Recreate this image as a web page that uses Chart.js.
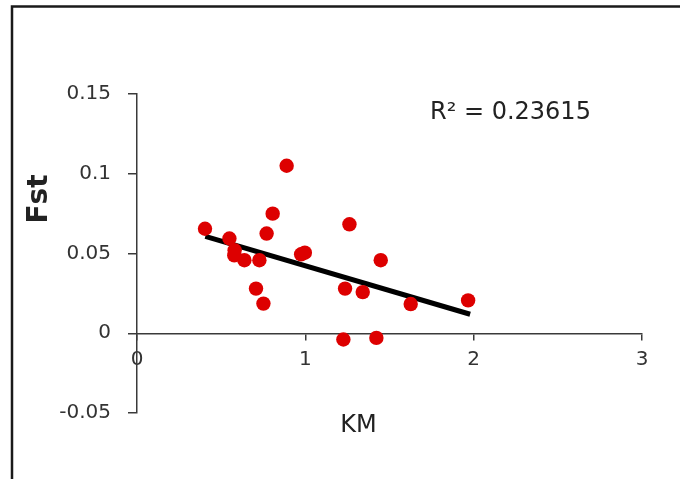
<!DOCTYPE html>
<html>
<head>
<meta charset="utf-8">
<script src="https://cdn.jsdelivr.net/npm/chart.js@4.4.0/dist/chart.umd.min.js"></script>
<style>
  html, body { margin: 0; padding: 0; background: #ffffff; }
  #wrap { position: relative; width: 680px; height: 479px; }
  canvas { display: block; }
</style>
</head>
<body>
<div id="wrap"><canvas id="c" width="680" height="479"></canvas></div>
<script>
// ---- data ----
const kmValues  = [0.404, 0.549, 0.578, 0.580, 0.638, 0.727, 0.707, 0.751, 0.770, 0.806, 0.889,
                   0.975, 0.997, 1.262, 1.236, 1.341, 1.448, 1.226, 1.422, 1.626, 1.967];
const fstValues = [0.0655, 0.0594, 0.0488, 0.0520, 0.0458, 0.0458, 0.0280, 0.0186, 0.0625, 0.0750, 0.1050,
                   0.0495, 0.0505, 0.0683, 0.0280, 0.0258, 0.0458, -0.0039, -0.0029, 0.0183, 0.0206];
const trendKm  = [0.406, 1.979];
const trendFst = [0.0608, 0.0119];
const xTickLabels = ['0', '1', '2', '3'];
const yTickLabels = ['-0.05', '0', '0.05', '0.1', '0.15'];
const xTitle = 'KM';
const yTitle = 'Fst';
const r2Text = 'R\u00B2 = 0.23615';

const points = kmValues.map((x, i) => ({ x: x, y: fstValues[i] }));
const trend = trendKm.map((x, i) => ({ x: x, y: trendFst[i] }));

const TXT = '#333333';
const AXIS = '#3a3a3a';

const decor = {
  id: 'decor',
  beforeDraw(chart) {
    const ctx = chart.ctx;
    ctx.save();
    ctx.fillStyle = '#ffffff';
    ctx.fillRect(0, 0, chart.width, chart.height);
    ctx.strokeStyle = '#1a1a1a';
    ctx.lineWidth = 2.5;
    ctx.beginPath();
    ctx.moveTo(12, chart.height + 5);
    ctx.lineTo(12, 6.5);
    ctx.lineTo(chart.width + 5, 6.5);
    ctx.stroke();
    ctx.restore();
  },
  afterDraw(chart) {
    const ctx = chart.ctx;
    const area = chart.chartArea;
    ctx.save();
    ctx.fillStyle = '#222222';
    ctx.font = '24px "DejaVu Sans"';
    ctx.textAlign = 'left';
    ctx.textBaseline = 'alphabetic';
    ctx.fillText(r2Text, 430, 119);
    ctx.font = '24px "DejaVu Sans"';
    ctx.textAlign = 'center';
    ctx.textBaseline = 'middle';
    ctx.fillText(xTitle, (area.left + area.right) / 2 - 31, 426);
    ctx.font = 'bold 28px "DejaVu Sans"';
    ctx.translate(40, 199);
    ctx.rotate(-Math.PI / 2);
    ctx.fillText(yTitle, 0, 0);
    ctx.restore();
  }
};

new Chart(document.getElementById('c'), {
  type: 'scatter',
  data: {
    datasets: [
      {
        type: 'line',
        data: trend,
        borderColor: '#000000',
        borderWidth: 5,
        pointRadius: 0,
        fill: false,
        order: 2
      },
      {
        data: points,
        backgroundColor: '#dd0000',
        borderColor: '#dd0000',
        borderWidth: 0,
        pointRadius: 7.2,
        order: 1
      }
    ]
  },
  options: {
    responsive: false,
    animation: false,
    events: [],
    layout: { padding: { top: 94, bottom: 66, right: 38, left: 0 } },
    plugins: { legend: { display: false }, tooltip: { enabled: false } },
    scales: {
      x: {
        type: 'linear',
        position: { y: 0 },
        min: 0, max: 3,
        afterBuildTicks(scale) { scale.ticks = xTickLabels.map(v => ({ value: Number(v) })); },
        ticks: {
          color: TXT,
          font: { family: 'DejaVu Sans', size: 20 },
          padding: 9,
          callback: (v, i) => xTickLabels[i],
          maxRotation: 0
        },
        grid: { display: true, drawOnChartArea: false, drawTicks: true, tickLength: 6, color: AXIS, lineWidth: 1.5 },
        border: { display: true, color: AXIS, width: 1.5 }
      },
      y: {
        type: 'linear',
        position: 'left',
        min: -0.05, max: 0.15,
        afterBuildTicks(scale) { scale.ticks = yTickLabels.map(v => ({ value: Number(v) })); },
        afterFit(scale) { scale.width = 137; },
        ticks: {
          color: TXT,
          font: { family: 'DejaVu Sans', size: 20 },
          padding: 17,
          callback: (v, i) => yTickLabels[i]
        },
        grid: { display: true, drawOnChartArea: false, drawTicks: true, tickLength: 9, color: AXIS, lineWidth: 1.5 },
        border: { display: true, color: AXIS, width: 1.5 }
      }
    }
  },
  plugins: [decor]
});
</script>
</body>
</html>
